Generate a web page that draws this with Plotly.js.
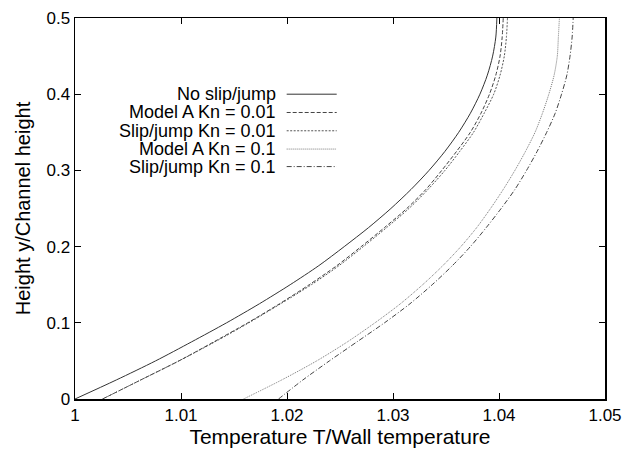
<!DOCTYPE html>
<html>
<head>
<meta charset="utf-8">
<script src="https://cdn.plot.ly/plotly-3.0.1.min.js"></script>
<style>html,body{margin:0;padding:0;background:#fff;}#chart{width:624px;height:450px;}</style>
</head>
<body>
<div id="chart"></div>
<script>
// Height y / channel height (shared by all series)
const heights = [0, 0.025, 0.05, 0.075, 0.1, 0.125, 0.15, 0.175, 0.2, 0.225, 0.25, 0.275, 0.3, 0.325, 0.35, 0.375, 0.4, 0.425, 0.45, 0.475, 0.5];

// Temperature T / wall temperature
const noSlip      = [1.0000, 1.0039, 1.0076, 1.0110, 1.0143, 1.0174, 1.0203, 1.0230, 1.0254, 1.0277, 1.0298, 1.0317, 1.0334, 1.0349, 1.0362, 1.0373, 1.0382, 1.0389, 1.0394, 1.0397, 1.0398];
const modelA001   = [1.0026, 1.0062, 1.0098, 1.0131, 1.0163, 1.0193, 1.0221, 1.0247, 1.0270, 1.0292, 1.0313, 1.0331, 1.0346, 1.0360, 1.0373, 1.0383, 1.0391, 1.0397, 1.0401, 1.0403, 1.0404];
const slipJump001 = [1.0026, 1.0062, 1.0098, 1.0132, 1.0164, 1.0194, 1.0223, 1.0249, 1.0272, 1.0294, 1.0315, 1.0333, 1.0349, 1.0363, 1.0376, 1.0386, 1.0395, 1.0401, 1.0405, 1.0407, 1.0408];
const modelA01    = [1.0159, 1.0195, 1.0228, 1.0257, 1.0283, 1.0307, 1.0328, 1.0347, 1.0364, 1.0379, 1.0392, 1.0404, 1.0415, 1.0425, 1.0434, 1.0441, 1.0447, 1.0452, 1.0455, 1.0456, 1.0457];
const slipJump01  = [1.0192, 1.0215, 1.0240, 1.0266, 1.0292, 1.0316, 1.0337, 1.0356, 1.0373, 1.0388, 1.0402, 1.0415, 1.0426, 1.0436, 1.0445, 1.0453, 1.0459, 1.0464, 1.0467, 1.0469, 1.0470];

const seriesNames = ["No slip/jump", "Model A Kn = 0.01", "Slip/jump Kn = 0.01", "Model A Kn = 0.1", "Slip/jump Kn = 0.1"];
const seriesData = [noSlip, modelA001, slipJump001, modelA01, slipJump01];
const dashes = ["solid", "4px,2px", "2px,1.5px", "1px,1px", "5px,2px,1px,2px"];
const colors = ["#333", "#444", "#555", "#777", "#444"];

const xTicks = [1, 1.01, 1.02, 1.03, 1.04, 1.05];
const xTickText = ["1", "1.01", "1.02", "1.03", "1.04", "1.05"];
const yTicks = [0, 0.1, 0.2, 0.3, 0.4, 0.5];
const yTickText = ["0", "0.1", "0.2", "0.3", "0.4", "0.5"];

const traces = seriesData.map((d, i) => ({
  x: d, y: heights, type: "scatter", mode: "lines", name: seriesNames[i],
  line: {color: colors[i], width: 1, dash: dashes[i], shape: "spline", smoothing: 0.8},
  showlegend: false, hoverinfo: "skip"
}));

const family = "Liberation Sans, Arial, sans-serif";

// custom legend (text right-aligned, sample to the right)
const legY = [0.800, 0.752, 0.704, 0.656, 0.610];
const annotations = [];
const shapes = [];
seriesNames.forEach((n, i) => {
  annotations.push({xref: "paper", yref: "paper", x: 0.3812, y: legY[i], xanchor: "right", yanchor: "middle",
    text: n, showarrow: false, borderpad: 0, font: {family: family, size: 18, color: "#000"}});
  shapes.push({type: "line", xref: "paper", yref: "paper", x0: 0.3994, x1: 0.4938, y0: legY[i], y1: legY[i],
    line: {color: colors[i], width: 1, dash: dashes[i]}});
});

const font = {family: family, size: 17, color: "#000"};
const layout = {
  width: 624, height: 450,
  margin: {l: 75, r: 19, t: 18, b: 51},
  paper_bgcolor: "#fff", plot_bgcolor: "#fff",
  font: font,
  xaxis: {
    range: [1, 1.05], tickvals: xTicks, ticktext: xTickText,
    ticks: "inside", ticklen: 6, tickwidth: 1, tickcolor: "#000",
    showline: true, linecolor: "#000", linewidth: 1.5, mirror: "ticks",
    showgrid: false, zeroline: false,
    tickfont: font,
    title: {text: "Temperature T/Wall temperature", font: {family: family, size: 21, color: "#000"}, standoff: 4}
  },
  yaxis: {
    range: [0, 0.5], tickvals: yTicks, ticktext: yTickText,
    ticks: "inside", ticklen: 6, tickwidth: 1, tickcolor: "#000",
    showline: true, linecolor: "#000", linewidth: 1.5, mirror: "ticks",
    showgrid: false, zeroline: false,
    tickfont: font,
    title: {text: "Height y/Channel height", font: {family: family, size: 20, color: "#000"}, standoff: 10}
  },
  annotations: annotations,
  shapes: shapes,
  showlegend: false
};

Plotly.newPlot("chart", traces, layout, {displayModeBar: false, staticPlot: true});
</script>
</body>
</html>
